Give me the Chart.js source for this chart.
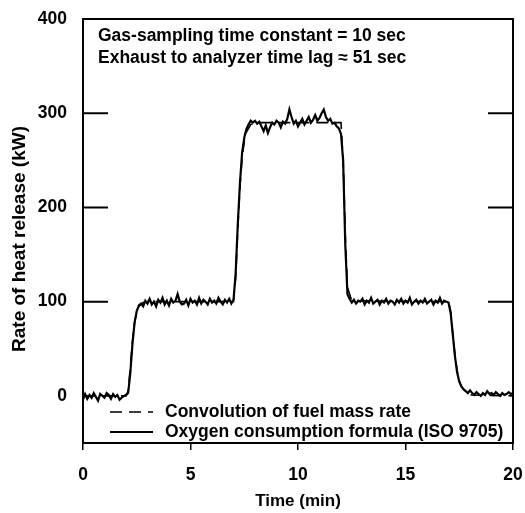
<!DOCTYPE html>
<html>
<head>
<meta charset="utf-8">
<script src="https://cdn.jsdelivr.net/npm/chart.js@4.4.1/dist/chart.umd.min.js"></script>
<style>
    html, body { margin: 0; padding: 0; background: #fff; }
    #wrap { width: 525px; height: 513px; }
</style>
</head>
<body>
<div id="wrap"><canvas id="hrr_chart" width="525" height="513"></canvas></div>
<script>
// measured curve, one reading every 0.1 min
var measTime = [
    0.0, 0.1, 0.2, 0.3, 0.4, 0.5, 0.6, 0.7, 0.8, 0.9,
    1.0, 1.1, 1.2, 1.3, 1.4, 1.5, 1.6, 1.7, 1.8, 1.9,
    2.0, 2.1, 2.2, 2.3, 2.4, 2.5, 2.6, 2.7, 2.8, 2.9,
    3.0, 3.1, 3.2, 3.3, 3.4, 3.5, 3.6, 3.7, 3.8, 3.9,
    4.0, 4.1, 4.2, 4.3, 4.4, 4.5, 4.6, 4.7, 4.8, 4.9,
    5.0, 5.1, 5.2, 5.3, 5.4, 5.5, 5.6, 5.7, 5.8, 5.9,
    6.0, 6.1, 6.2, 6.3, 6.4, 6.5, 6.6, 6.7, 6.8, 6.9,
    7.0, 7.1, 7.2, 7.3, 7.4, 7.5, 7.6, 7.7, 7.8, 7.9,
    8.0, 8.1, 8.2, 8.3, 8.4, 8.5, 8.6, 8.7, 8.8, 8.9,
    9.0, 9.1, 9.2, 9.3, 9.4, 9.5, 9.6, 9.7, 9.8, 9.9,
    10.0, 10.1, 10.2, 10.3, 10.4, 10.5, 10.6, 10.7, 10.8, 10.9,
    11.0, 11.1, 11.2, 11.3, 11.4, 11.5, 11.6, 11.7, 11.8, 11.9,
    12.0, 12.1, 12.2, 12.3, 12.4, 12.5, 12.6, 12.7, 12.8, 12.9,
    13.0, 13.1, 13.2, 13.3, 13.4, 13.5, 13.6, 13.7, 13.8, 13.9,
    14.0, 14.1, 14.2, 14.3, 14.4, 14.5, 14.6, 14.7, 14.8, 14.9,
    15.0, 15.1, 15.2, 15.3, 15.4, 15.5, 15.6, 15.7, 15.8, 15.9,
    16.0, 16.1, 16.2, 16.3, 16.4, 16.5, 16.6, 16.7, 16.8, 16.9,
    17.0, 17.1, 17.2, 17.3, 17.4, 17.5, 17.6, 17.7, 17.8, 17.9,
    18.0, 18.1, 18.2, 18.3, 18.4, 18.5, 18.6, 18.7, 18.8, 18.9,
    19.0, 19.1, 19.2, 19.3, 19.4, 19.5, 19.6, 19.7, 19.8, 19.9,
    20.0
];
var oxygenHrr = [
    -4, 2, -3, 1, -2, 3, -1, -5, 2, 0,
    -2, 3, 1, -3, 2, -1, 1, -4, -2, 0,
    1, 3, 24, 55, 78, 90, 96, 98, 95, 101,
    98, 103, 97, 100, 95, 102, 99, 104, 97, 101,
    96, 103, 99, 101, 108, 100, 97, 98, 102, 96,
    103, 99, 101, 97, 104, 98, 102, 100, 97, 103,
    99, 101, 98, 104, 100, 97, 102, 99, 103, 98,
    102, 130, 182, 226, 258, 274, 283, 288, 292, 290,
    292, 289, 291, 286, 281, 287, 279, 285, 290, 288,
    292, 290, 285, 291, 289, 294, 304, 296, 289, 292,
    286, 290, 294, 288, 292, 296, 290, 293, 298, 292,
    295, 300, 304, 296, 292, 294, 289, 290, 286, 284,
    278, 250, 160, 108, 103, 99, 102, 98, 101, 100,
    103, 97, 101, 99, 104, 98, 100, 102, 97, 101,
    99, 103, 98, 101, 100, 97, 102, 99, 103, 98,
    101, 99, 104, 97, 100, 102, 98, 101, 99, 103,
    98, 100, 102, 97, 101, 99, 104, 98, 101, 100,
    99, 88, 65, 42, 25, 15, 10, 7, 5, 3,
    6, 3, 1, 4, 2, 0, 3, 1, 5, 2,
    3, 1, 4, 2, 0, 3, 1, 2, 4, 2,
    3
];

// smooth curve from the fuel mass rate
var convTime = [0, 2.0, 2.1, 2.2, 2.3, 2.4, 2.5, 2.6, 2.8, 3.0,
    7.0, 7.1, 7.2, 7.3, 7.4, 7.5, 7.6, 7.8, 8.0,
    12.0, 12.1, 12.2, 12.3, 12.5,
    17.0, 17.1, 17.2, 17.3, 17.4, 17.5, 17.6, 17.8, 18.0, 20];
var convHrr = [0, 0, 5, 30, 58, 78, 89, 95, 99, 100,
    100, 125, 178, 222, 252, 270, 280, 288, 290,
    290, 250, 170, 115, 101,
    100, 90, 66, 44, 27, 16, 10, 4, 1, 0];

var xTicks = [0, 5, 10, 15, 20];
var yTicks = [-50, 0, 100, 200, 300, 400];
var yLabelled = [0, 100, 200, 300, 400];
var yInnerTicks = [100, 200, 300];

var notes = ["Gas-sampling time constant = 10 sec", "Exhaust to analyzer time lag \u2248 51 sec"];
var legendLabels = ["Convolution of fuel mass rate", "Oxygen consumption formula (ISO 9705)"];

var fam = "'Liberation Sans', Arial, sans-serif";
var txtFont = "bold 17.5px " + fam;

function toPoints(xs, ys) {
    return xs.map(function (x, i) { return { x: x, y: ys[i] }; });
}

var boxPlugin = {
    id: "boxPlugin",
    afterDraw: function (chart) {
        var ctx = chart.ctx;
        var a = chart.chartArea;
        var ys = chart.scales.y;
        ctx.save();
        ctx.strokeStyle = "#000";
        ctx.lineWidth = 2;
        ctx.strokeRect(a.left, a.top, a.right - a.left, a.bottom - a.top);

        // inward ticks on both sides
        yInnerTicks.forEach(function (v) {
            var py = ys.getPixelForValue(v);
            ctx.beginPath();
            ctx.moveTo(a.left, py);
            ctx.lineTo(a.left + 25, py);
            ctx.moveTo(a.right - 25, py);
            ctx.lineTo(a.right, py);
            ctx.stroke();
        });

        ctx.fillStyle = "#000";
        ctx.font = txtFont;
        ctx.textBaseline = "middle";
        ctx.textAlign = "left";
        ctx.fillText(notes[0], a.left + 15, a.top + 17);
        ctx.fillText(notes[1], a.left + 15, a.top + 39);

        // legend, bottom left inside the frame
        var sets = chart.data.datasets;
        [0, 1].forEach(function (i) {
            var ly = a.bottom - 31 + i * 20;
            ctx.beginPath();
            ctx.lineWidth = sets[i].borderWidth;
            ctx.setLineDash(sets[i].borderDash || []);
            ctx.moveTo(a.left + 27, ly);
            ctx.lineTo(a.left + 70, ly);
            ctx.stroke();
            ctx.setLineDash([]);
            ctx.fillText(legendLabels[i], a.left + 82, ly);
        });

        // y title, drawn slightly below centre as in the original
        ctx.translate(20, (a.top + a.bottom) / 2 + 8);
        ctx.rotate(-Math.PI / 2);
        ctx.textAlign = "center";
        ctx.font = "bold 19px " + fam;
        ctx.fillText("Rate of heat release (kW)", 0, 0);
        ctx.restore();
    },
};

new Chart(document.getElementById("hrr_chart"), {
    type: "line",
    data: {
        datasets: [
            {
                label: legendLabels[0],
                data: toPoints(convTime, convHrr),
                borderColor: "#000",
                borderWidth: 1.6,
                borderDash: [12, 7],
                pointRadius: 0,
                tension: 0,
            },
            {
                label: legendLabels[1],
                data: toPoints(measTime, oxygenHrr),
                borderColor: "#000",
                borderWidth: 2.2,
                pointRadius: 0,
                tension: 0,
            },
        ],
    },
    options: {
        responsive: false,
        animation: false,
        layout: { padding: { left: 0, right: 12, top: 19, bottom: 0 } },
        plugins: { legend: { display: false }, tooltip: { enabled: false } },
        scales: {
            x: {
                type: "linear",
                min: 0,
                max: 20,
                afterBuildTicks: function (s) { s.ticks = xTicks.map(function (v) { return { value: v }; }); },
                afterFit: function (s) {
                    s.height = 70;
                    s.paddingLeft = 0;
                    s.paddingRight = 0;
                },
                border: { display: false },
                grid: { drawOnChartArea: false, tickLength: 7, color: "#000", lineWidth: 1.5 },
                ticks: { color: "#000", font: { family: fam, size: 17.5, weight: "bold" }, padding: 15, maxRotation: 0 },
                title: { display: true, text: "Time (min)", color: "#000", font: { family: fam, size: 17, weight: "bold" }, padding: { top: 0, bottom: 1 } },
            },
            y: {
                min: -50,
                max: 400,
                afterBuildTicks: function (s) { s.ticks = yTicks.map(function (v) { return { value: v }; }); },
                afterFit: function (s) { s.width = 83; },
                border: { display: false },
                grid: { display: false },
                ticks: {
                    color: "#000",
                    font: { family: fam, size: 17.5, weight: "bold" },
                    padding: 8,
                    callback: function (v) { return yLabelled.indexOf(v) >= 0 ? v : ""; },
                },
                title: { display: false },
            },
        },
    },
    plugins: [boxPlugin],
});
</script>
</body>
</html>
